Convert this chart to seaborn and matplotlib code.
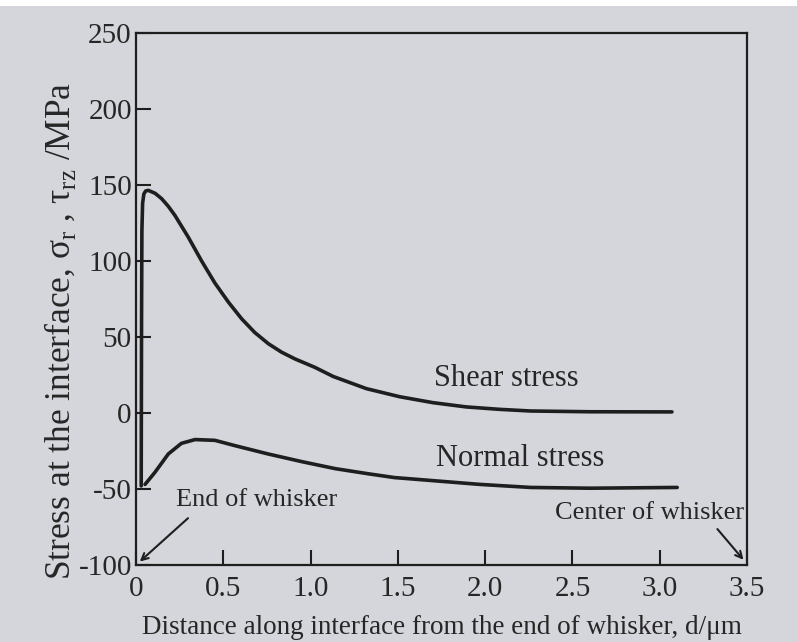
import matplotlib
matplotlib.use('Agg')
import matplotlib.pyplot as plt
from matplotlib.patches import Rectangle
from matplotlib.ticker import FuncFormatter
import numpy as np
import pandas as pd
import seaborn as sns

# values (d in um, stress in MPa)
shear_d = [0.030, 0.032, 0.034, 0.038, 0.045, 0.055, 0.070, 0.110, 0.147, 0.185,
           0.223, 0.300, 0.376, 0.452, 0.529, 0.605, 0.680, 0.758, 0.834, 0.910,
           1.025, 1.13, 1.32, 1.51, 1.70, 1.89, 2.08, 2.26, 2.60, 3.07]
shear_s = [-48, 60, 120, 138, 144, 146, 146.5, 144.5, 141, 136,
           130, 115.6, 100, 85.5, 73, 62, 53, 45.6, 40, 35.6,
           30, 24, 16, 10.7, 6.8, 4, 2.4, 1.3, 0.8, 0.7]
normal_d = [0.052, 0.109, 0.185, 0.260, 0.338, 0.452, 0.567, 0.758, 0.949, 1.14,
            1.33, 1.48, 1.59, 1.97, 2.26, 2.60, 3.10]
normal_s = [-47, -39, -27, -20, -17.5, -18, -21.5, -27, -32, -36.6,
            -40, -42.5, -43.5, -47, -49, -49.5, -49]

x_ticks = [0, 0.5, 1.0, 1.5, 2.0, 2.5, 3.0, 3.5]
y_ticks = [-100, -50, 0, 50, 100, 150, 200, 250]

df = pd.concat([
    pd.DataFrame({'d': shear_d, 'stress': shear_s, 'kind': 'Shear stress'}),
    pd.DataFrame({'d': normal_d, 'stress': normal_s, 'kind': 'Normal stress'}),
])

sns.set_theme(style='ticks')
plt.rcParams['font.family'] = ['Liberation Serif', 'DejaVu Serif']
plt.rcParams['mathtext.fontset'] = 'custom'
plt.rcParams['mathtext.rm'] = 'Liberation Serif'
plt.rcParams['axes.unicode_minus'] = False

bg = '#d5d6db'
ink = '#262626'
fig = plt.figure(figsize=(7.97, 6.42), dpi=100, facecolor=bg)
ax = fig.add_axes([0.1706, 0.120, 0.7667, 0.8286])
ax.set_facecolor(bg)

sns.lineplot(data=df, x='d', y='stress', units='kind', estimator=None,
             sort=False, color='#1e1e1e', linewidth=2.6, ax=ax, legend=False)

ax.set_xlim(0, 3.5)
ax.set_ylim(-100, 250)
ax.set_xticks(x_ticks)
ax.set_yticks(y_ticks)
ax.xaxis.set_major_formatter(FuncFormatter(lambda v, p: '0' if v == 0 else f'{v:.1f}'))
ax.tick_params(direction='in', length=11, width=1.5, color='#1e1e1e',
               labelsize=21, labelcolor=ink, pad=3)
ax.tick_params(axis='x', pad=8)
for s in ax.spines.values():
    s.set_linewidth(1.6)
    s.set_color('#1e1e1e')

ax.set_xlabel('Distance along interface from the end of whisker, d/\u03bcm',
              fontsize=19.5, color=ink, labelpad=9)
ax.set_ylabel('Stress at the interface, \u03c3$_{\\rm r}$ , \u03c4$_{\\rm rz}$ /MPa',
              fontsize=25.5, color=ink)
ax.yaxis.set_label_coords(-0.095, 0.44)

ax.text(2.12, 23, 'Shear stress', fontsize=22, ha='center', va='center', color=ink)
ax.text(2.20, -30, 'Normal stress', fontsize=22, ha='center', va='center', color=ink)
ax.text(0.69, -57, 'End of whisker', fontsize=19, ha='center', va='center', color=ink)
ax.text(2.94, -66, 'Center of whisker', fontsize=19, ha='center', va='center', color=ink)
ax.annotate('', xy=(0.01, -99), xytext=(0.31, -68),
            arrowprops=dict(arrowstyle='->', color='#1e1e1e', lw=1.5))
ax.annotate('', xy=(3.49, -98), xytext=(3.32, -75),
            arrowprops=dict(arrowstyle='->', color='#1e1e1e', lw=1.5))

# white strip at the top edge of the photo
fig.add_artist(Rectangle((0, 0.99), 1, 0.01, transform=fig.transFigure,
                         facecolor='white', edgecolor='none'))

fig.savefig('out.png', dpi=100, facecolor=bg)
